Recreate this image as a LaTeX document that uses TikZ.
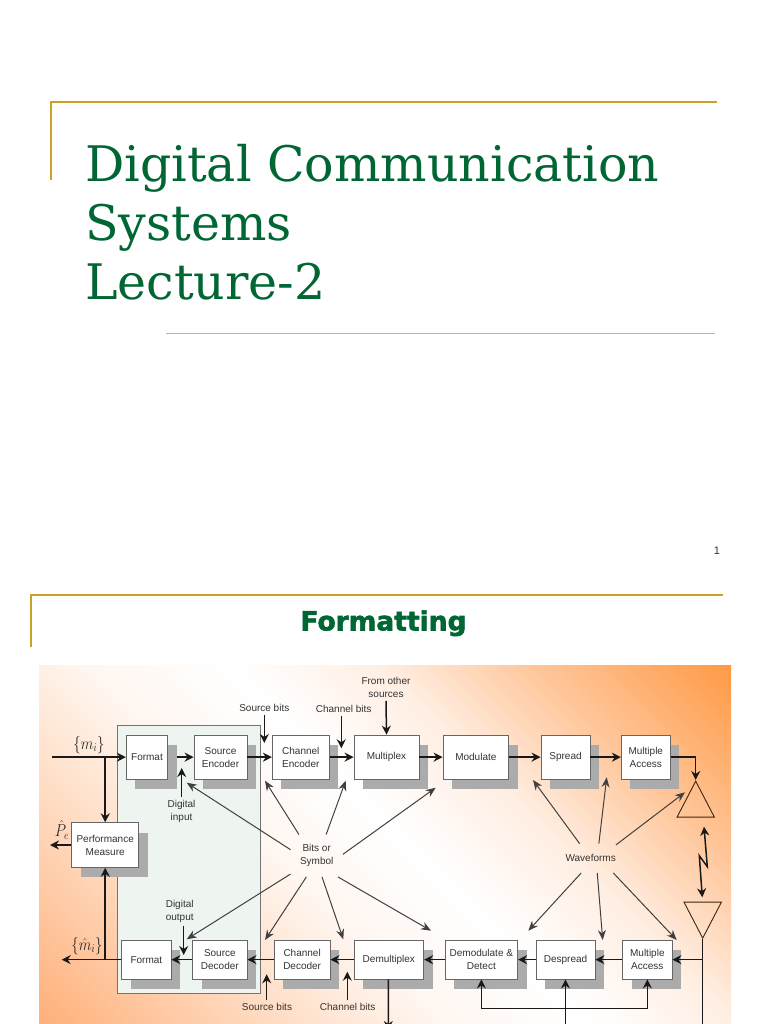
\documentclass[tikz,border=0pt]{standalone}
\usepackage{fontspec}
\setmainfont{Liberation Sans}
\newfontfamily\titlefont{DejaVu Serif}
\newfontfamily\headfont[BoldFont={DejaVu Sans Bold},BoldFeatures={FakeBold=2}]{DejaVu Sans}
\usetikzlibrary{arrows.meta,shadows,shapes.geometric}
\definecolor{gold}{HTML}{C9A227}
\definecolor{ttl}{HTML}{006633}
\definecolor{inktxt}{HTML}{333333}
\definecolor{shd}{HTML}{ABABAB}
\definecolor{panelc}{HTML}{EEF4F0}
\definecolor{g0}{HTML}{FF9A45}
\definecolor{g1}{HTML}{FFC79C}
\definecolor{g2}{HTML}{FFEEE2}
\definecolor{g3}{HTML}{FFFFFF}
\definecolor{g4}{HTML}{FFF6F0}
\definecolor{g5}{HTML}{FFDFC8}
\definecolor{g6}{HTML}{FFB07A}
\pgfdeclarehorizontalshading{slidebg}{100bp}{color(0bp)=(g6); color(23.5bp)=(g6); color(36.2bp)=(g5); color(43.7bp)=(g4); color(51.3bp)=(g3); color(58.9bp)=(g2); color(66.4bp)=(g1); color(76.5bp)=(g0); color(100bp)=(g0)}
\tikzset{
  box/.style={draw=black!60,line width=0.8pt,fill=white,inner sep=0pt,align=center,text=inktxt,font=\fontsize{10}{13}\selectfont,
    drop shadow={shadow xshift=9pt,shadow yshift=-10pt,opacity=1,fill=shd,draw=none}},
  lab/.style={inner sep=3pt,align=center,text=inktxt,font=\fontsize{10}{13}\selectfont},
  hub/.style={inner sep=0pt,align=center,text=inktxt,font=\fontsize{10}{13}\selectfont},
  mathlab/.style={inner sep=0pt,text=black!85,font=\fontsize{17}{19}\selectfont},
  arr/.style={line width=1.5pt,draw=black!90,-{Stealth[length=9pt,width=9pt]}},
  thinarr/.style={line width=1pt,draw=black!75,-{Stealth[length=10pt,width=8pt]}},
  ant/.style={draw=black!70!brown,line width=0.9pt,isosceles triangle,isosceles triangle stretches,shape border rotate=90,minimum width=37.4pt,minimum height=36pt,inner sep=0pt},
  goldline/.style={draw=gold,line cap=butt}
}
\begin{document}
\begin{tikzpicture}[x=1pt,y=-1pt]
\useasboundingbox (0,0) rectangle (768,1024);
\clip (0,0) rectangle (768,1024);
\fill[white] (0,0) rectangle (768,1024);
% first slide
\draw[goldline,line width=1.5pt] (51,180) -- (51,102) -- (717,102);
\draw[draw=gold!80,line width=0.9pt] (166,333) -- (715,333);
\node[anchor=base west,inner sep=0pt,text=ttl,font=\titlefont\fontsize{49}{58}\selectfont] (t1) at (85,182) {Digital Communication};
\node[anchor=base west,inner sep=0pt,text=ttl,font=\titlefont\fontsize{49}{58}\selectfont] (t2) at (85,240.5) {Systems};
\node[anchor=base west,inner sep=0pt,text=ttl,font=\titlefont\fontsize{49}{58}\selectfont] (t3) at (85,299) {Lecture-2};
\node[inner sep=0pt,text=black!80,font=\fontsize{11}{13}\selectfont] (pg) at (717,551) {1};
% second slide
\draw[goldline,line width=1.5pt] (31,647) -- (31,595) -- (723,595);
\node[anchor=base,inner sep=0pt,text=ttl,font=\headfont\bfseries\fontsize{26.5}{30}\selectfont] (head) at (383.5,630.5) {Formatting};
% background
\begin{scope}
\clip (39,665) rectangle (731,1024);
\shade[shading=slidebg,shading angle=45] (35,494.5) rectangle (735,1194.5);
\end{scope}
% panel
\draw[fill=panelc,draw=black!55,line width=0.8pt] (117.7,725) rectangle (260.3,993.7);
% top row
\node[box,minimum width=41.4pt,minimum height=44.3pt] (fmt) at (147,757.15) {Format};
\node[box,minimum width=53pt,minimum height=44.3pt] (se) at (220.5,757.15) {Source\\Encoder};
\node[box,minimum width=57pt,minimum height=44.3pt] (ce) at (300.8,757.15) {Channel\\Encoder};
\node[box,minimum width=65pt,minimum height=44.3pt] (mux) at (386.5,757.15) {Multiplex};
\node[box,minimum width=65.7pt,minimum height=44.3pt] (mod) at (475.85,757.15) {Modulate};
\node[box,minimum width=49pt,minimum height=44.3pt] (spr) at (565.5,757.15) {Spread};
\node[box,minimum width=49pt,minimum height=44.3pt] (ma) at (645.8,757.15) {Multiple\\Access};
% bottom row
\node[box,minimum width=49.3pt,minimum height=38.7pt] (fmtb) at (146.35,959.65) {Format};
\node[box,minimum width=54.3pt,minimum height=38.7pt] (sd) at (219.85,959.65) {Source\\Decoder};
\node[box,minimum width=55.7pt,minimum height=38.7pt] (cd) at (302.15,959.65) {Channel\\Decoder};
\node[box,minimum width=69.7pt,minimum height=38.7pt] (dmx) at (388.85,959.65) {Demultiplex};
\node[box,minimum width=72.7pt,minimum height=38.7pt] (dem) at (481.35,959.65) {Demodulate \&\\Detect};
\node[box,minimum width=59pt,minimum height=38.7pt] (dsp) at (565.5,959.65) {Despread};
\node[box,minimum width=49.3pt,minimum height=38.7pt] (mab) at (647.35,959.65) {Multiple\\Access};
\node[box,minimum width=67pt,minimum height=44.6pt] (perf) at (105.2,845) {Performance\\Measure};
% labels
\node[mathlab] (mi) at (89,745) {\scalebox{0.85}[1]{$\{m_i\}$}};
\node[mathlab] (pe) at (62,830) {\scalebox{0.85}[1]{$\hat{P}_e$}};
\node[mathlab] (mh) at (87,946) {\scalebox{0.85}[1]{$\{\hat{m}_i\}$}};
\node[lab] (sbt) at (264.3,708) {Source bits};
\node[lab] (cbt) at (343.7,709) {Channel bits};
\node[lab] (oth) at (386,687.5) {From other\\sources};
\node[lab] (din) at (181.5,811) {Digital\\input};
\node[lab] (dout) at (179.7,911.5) {Digital\\output};
\node[lab] (sbb) at (267,1007.3) {Source bits};
\node[lab] (cbb) at (347.7,1007.3) {Channel bits};
\node[hub,minimum width=52pt,minimum height=42pt] (bits) at (316.7,855.7) {Bits or\\Symbol};
\node[hub,minimum width=50pt,minimum height=29pt] (wave) at (590.7,858.3) {Waveforms};
% antennas
\node[ant,anchor=apex] (tx) at (695.7,780) {};
\node[ant,anchor=apex,shape border rotate=-90] (rx) at (702.7,939.3) {};
% free ends
\coordinate (in) at (52,757.15);
\coordinate (pout) at (50,845);
\coordinate (out) at (61.7,959.65);
\coordinate (sbtT) at (264.3,743);
\coordinate (cbtT) at (341.3,748.3);
\coordinate (dinT) at (181.7,768);
\coordinate (doutT) at (183.7,955);
\coordinate (sbbT) at (266.7,974.3);
\coordinate (cbbT) at (347.3,971.7);
\coordinate (dmxE) at (388.3,1030);
\coordinate (rxE) at (702.7,1024);
\coordinate (dspE) at (565.5,1024);
\coordinate (l1) at (704,826.7);
\coordinate (l2) at (707.3,866.7);
\coordinate (l3) at (699.3,855.7);
\coordinate (l4) at (702.3,897.3);
% forward chain
\draw[arr] (in) -- (fmt.west);
\draw[arr] ([xshift=9pt]fmt.east) -- (se.west);
\draw[arr] (se.east) -- (ce.west);
\draw[arr] (ce.east) -- (mux.west);
\draw[arr] (mux.east) -- (mod.west);
\draw[arr] (mod.east) -- (spr.west);
\draw[arr] (spr.east) -- (ma.west);
\draw[arr] (ma.east) -| (tx.apex);
% receive chain
\draw[line width=1.5pt,draw=black!90] (rx.apex) -- (rxE);
\draw[arr] (rx.apex |- mab.east) -- (mab.east);
\draw[arr] (mab.west) -- (dsp.east);
\draw[arr] (dsp.west) -- (dem.east);
\draw[arr] (dem.west) -- (dmx.east);
\draw[arr] (dmx.west) -- (cd.east);
\draw[arr] (cd.west) -- (sd.east);
\draw[arr] (sd.west) -- (fmtb.east);
\draw[arr] (fmtb.west) -- (out);
\draw[arr] (perf.north |- in) -- (perf.north);
\draw[arr] (perf.south |- fmtb.west) -- (perf.south);
\draw[arr] (perf.west) -- (pout);
\draw[arr] (sbtT |- sbt.south) -- (sbtT);
\draw[arr] (cbtT |- cbt.south) -- (cbtT);
\draw[arr] (oth.south) -- (mux.north);
\draw[arr] (dinT |- din.north) -- (dinT);
\draw[arr] (doutT |- dout.south) -- (doutT);
\draw[arr] (sbbT |- sbb.north) -- (sbbT);
\draw[arr] (cbbT |- cbb.north) -- (cbbT);
\draw[arr] ([xshift=-0.5pt]dmx.south) -- (dmxE);
\draw[arr] (dspE) -- (dsp.south);
\draw[arr,{Stealth[length=9pt,width=9pt]}-{Stealth[length=9pt,width=9pt]}] (dem.south) -- ++(0,29.3) -| (mab.south);
\draw[arr,{Stealth[length=9pt,width=9pt]}-{Stealth[length=9pt,width=9pt]}] (l1) -- (l2) -- (l3) -- (l4);
% bits
\draw[thinarr] (bits.167) -- (186.7,782.7);
\draw[thinarr] (bits.130) -- (265,780.7);
\draw[thinarr] (bits.66) -- (345.7,780.7);
\draw[thinarr] (bits.3) -- (435.7,787.7);
\draw[thinarr] (bits.215.6) -- (186.7,939.3);
\draw[thinarr] (bits.244.7) -- (265,940);
\draw[thinarr] (bits.284.9) -- (343.3,939.3);
\draw[thinarr] (bits.315.8) -- (431,930.7);
% waveforms
\draw[thinarr] (wave.127.6) -- (533,780);
\draw[thinarr] (wave.61.7) -- (606.7,777.3);
\draw[thinarr] (wave.28.4) -- (685,792.3);
\draw[thinarr] (wave.237.5) -- (528.3,930.7);
\draw[thinarr] (wave.294) -- (602.7,940);
\draw[thinarr] (wave.327.5) -- (676.7,940);
\end{tikzpicture}
\end{document}
